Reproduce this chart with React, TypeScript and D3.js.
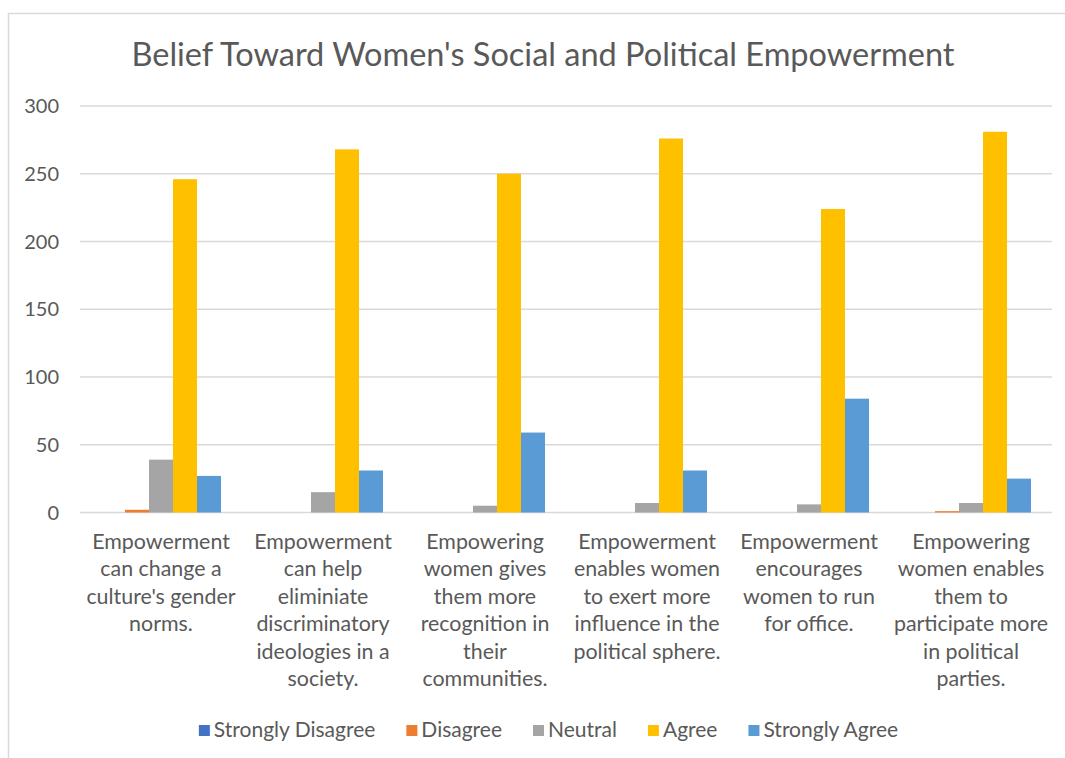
import React, { useEffect, useRef } from "react";
import * as d3 from "d3";

const TITLE = "Belief Toward Women's Social and Political Empowerment";

const categories: string[][] = [
  ["Empowerment", "can change a", "culture's gender", "norms."],
  ["Empowerment", "can help", "eliminiate", "discriminatory", "ideologies in a", "society."],
  ["Empowering", "women gives", "them more", "recognition in", "their", "communities."],
  ["Empowerment", "enables women", "to exert more", "influence in the", "political sphere."],
  ["Empowerment", "encourages", "women to run", "for office."],
  ["Empowering", "women enables", "them to", "participate more", "in political", "parties."],
];

const seriesNames = ["Strongly Disagree", "Disagree", "Neutral", "Agree", "Strongly Agree"];
const seriesColors = ["#4472C4", "#ED7D31", "#A5A5A5", "#FFC000", "#5B9BD5"];

const stronglyDisagree = [0, 0, 0, 0, 0, 0];
const disagree = [2, 0, 0, 0, 0, 1];
const neutral = [39, 15, 5, 7, 6, 7];
const agree = [246, 268, 250, 276, 224, 281];
const stronglyAgree = [27, 31, 59, 31, 84, 25];

const yTicks = [0, 50, 100, 150, 200, 250, 300];

const seriesValues = [stronglyDisagree, disagree, neutral, agree, stronglyAgree];

const FONT = "Lato, 'Open Sans', sans-serif";
const TEXT = "#595959";

export default function App() {
  const ref = useRef<SVGSVGElement | null>(null);

  useEffect(() => {
    const svg = d3.select(ref.current);
    svg.selectAll("*").remove();

    const W = 1065, H = 758;
    const left = 80, right = 1052, top = 106, bottom = 512.5;

    svg.append("rect").attr("width", W).attr("height", H).attr("fill", "#fff");
    svg.append("rect")
      .attr("x", 8.5).attr("y", 13.5).attr("width", W + 10).attr("height", H + 10)
      .attr("fill", "#fff").attr("stroke", "#d9d9d9").attr("stroke-width", 1.5);

    svg.append("text")
      .attr("x", 543).attr("y", 66)
      .attr("text-anchor", "middle")
      .attr("font-family", FONT).attr("font-size", 32.5)
      .attr("fill", TEXT)
      .text(TITLE);

    const catIdx = categories.map((_, i) => String(i));
    const x0 = d3.scaleBand<string>().domain(catIdx).range([left, right]).paddingInner(0).paddingOuter(0);
    const x1 = d3.scaleBand<string>().domain(seriesNames).range([0, x0.bandwidth()]).paddingInner(0).paddingOuter(0.875);
    const y = d3.scaleLinear().domain([0, 300]).range([bottom, top]);

    const g = svg.append("g");
    g.selectAll("line.grid").data(yTicks).enter().append("line")
      .attr("x1", left).attr("x2", right)
      .attr("y1", d => y(d)).attr("y2", d => y(d))
      .attr("stroke", "#d9d9d9").attr("stroke-width", 1.3);

    g.selectAll("text.tick").data(yTicks).enter().append("text")
      .attr("x", 59).attr("y", d => y(d))
      .attr("dy", "0.35em")
      .attr("text-anchor", "end")
      .attr("font-family", FONT).attr("font-size", 20)
      .attr("fill", TEXT)
      .text(d => String(d));

    seriesNames.forEach((s, si) => {
      g.selectAll(`rect.s${si}`).data(seriesValues[si]).enter().append("rect")
        .attr("x", (_, i) => (x0(String(i)) as number) + (x1(s) as number))
        .attr("width", x1.bandwidth())
        .attr("y", d => y(d))
        .attr("height", d => y(0) - y(d))
        .attr("fill", seriesColors[si]);
    });

    categories.forEach((lines, i) => {
      const cx = (x0(String(i)) as number) + x0.bandwidth() / 2;
      const t = g.append("text")
        .attr("text-anchor", "middle")
        .attr("font-family", FONT).attr("font-size", 21.4)
        .attr("fill", TEXT);
      lines.forEach((ln, li) => {
        t.append("tspan").attr("x", cx).attr("y", 549 + li * 27.4).text(ln);
      });
    });

    // legend
    const legend = svg.append("g");
    const items = seriesNames.map((s, si) => {
      const it = legend.append("g");
      it.append("rect").attr("width", 11).attr("height", 11).attr("y", -12).attr("fill", seriesColors[si]);
      const tx = it.append("text").attr("x", 15).attr("y", 0)
        .attr("font-family", FONT).attr("font-size", 21).attr("fill", TEXT).text(s);
      const w = 15 + (tx.node() as SVGTextElement).getComputedTextLength();
      return { it, w };
    });
    const gap = 31;
    const total = d3.sum(items, d => d.w) + gap * (items.length - 1);
    let cx = 548.5 - total / 2;
    items.forEach(({ it, w }) => {
      it.attr("transform", `translate(${cx},737)`);
      cx += w + gap;
    });
  }, []);

  return (
    <svg
      ref={ref}
      width={1065}
      height={758}
      style={{ position: "absolute", left: 0, top: 0, display: "block" }}
    />
  );
}
